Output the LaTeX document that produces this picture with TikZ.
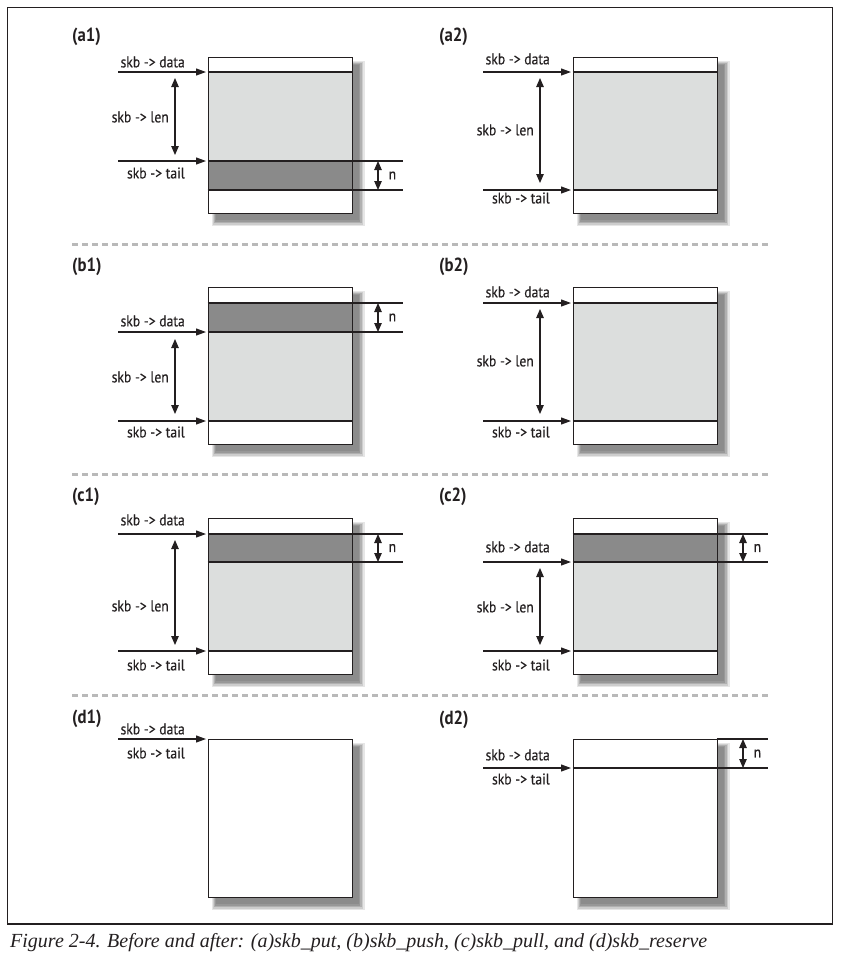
\documentclass[tikz,border=0pt]{standalone}
\usepackage{fontspec}
\setmainfont{Liberation Serif}
\newfontfamily\labelfont[FakeStretch=0.88,FakeBold=0.3]{PT Sans}
\newfontfamily\tagfont[FakeStretch=0.88]{PT Sans}
\usetikzlibrary{arrows.meta}

\definecolor{ink}{RGB}{35,31,32}
\definecolor{datafill}{RGB}{220,222,221}
\definecolor{bandfill}{RGB}{138,138,138}
\definecolor{rulegray}{RGB}{185,185,185}
\definecolor{shadeA}{RGB}{230,230,230}
\definecolor{shadeB}{RGB}{205,205,205}
\definecolor{shadeC}{RGB}{176,176,176}
\definecolor{shadeD}{RGB}{152,152,152}
\definecolor{shadeE}{RGB}{140,140,140}

\tikzset{
  buf/.style={draw=ink, line width=1.3pt, inner sep=0pt, anchor=north west},
  ptr/.style={draw=ink, line width=1.1pt, shorten >=1.5pt, -{Triangle[length=10pt,width=7pt]}},
  span/.style={draw=ink, line width=1.1pt, {Triangle[length=9pt,width=7.5pt]}-{Triangle[length=9pt,width=7.5pt]}},
  ext/.style={draw=ink, line width=1.1pt},
  lbl/.style={font=\labelfont\fontsize{15.5}{18}\selectfont, text=ink, inner sep=0pt},
  tag/.style={font=\tagfont\bfseries\fontsize{19}{22}\selectfont, text=ink, inner sep=0pt, anchor=west},
  sep/.style={draw=rulegray, line width=3pt, dash pattern=on 6pt off 4pt},
}

% pointer arrow into the buffer: name, x from, x to, y, label y, text
\newcommand\SkbPtr[6]{%
  \coordinate (#1s) at (#2,#4);
  \coordinate (#1e) at (#3,#4);
  \draw[ptr] (#1s) -- (#1e);
  \node[lbl, anchor=east] (#1l) at ({#3-22.5},#5) {#6};
}

% length dimension: name, x, y from, y to, label y
\newcommand\SkbLen[5]{%
  \coordinate (#1a) at (#2,#3);
  \coordinate (#1b) at (#2,#4);
  \draw[span] (#1a) -- (#1b);
  \node[lbl, anchor=east] (#1l) at ({#2-6},#5) {skb -> len};
}

% n dimension right of the buffer: name, right x, y top, y bottom
\newcommand\SkbN[4]{%
  \coordinate (#1p) at (#2,#3);
  \coordinate (#1q) at (#2,#4);
  \coordinate (#1r) at ({#2+51.5},#3);
  \coordinate (#1s) at ({#2+51.5},#4);
  \draw[ext] (#1p) -- (#1r);
  \draw[ext] (#1q) -- (#1s);
  \coordinate (#1a) at ({#2+26.5},#3);
  \coordinate (#1b) at ({#2+26.5},#4);
  \draw[span] (#1a) -- (#1b);
  \node[lbl, anchor=west] (#1l) at ({#2+37},{(#3+#4)/2}) {n};
}

% buffer outline: name, left x, top y, bottom y
\newcommand\SkbFrame[4]{%
  \node[buf, minimum width=144pt, minimum height={#4pt-#3pt}] (#1) at (#2,#3) {};
}
% filled region of the buffer: left x, y from, y to, colour
\newcommand\SkbBand[4]{%
  \fill[#4] (#1,#2) rectangle ({#1+144},#3);
}
% horizontal divider across the buffer: left x, y
\newcommand\SkbLine[2]{%
  \draw[ext] (#1,#2) -- ({#1+144},#2);
}
% drop shadow strips right of and below a buffer (left x, top y, bottom y),
% pale rim first, darker core last
\newcommand\SkbShade[3]{%
  \fill[shadeA] ({#1+144},{#2+4}) rectangle ({#1+157},{#3+13});
  \fill[shadeA] ({#1+4},#3) rectangle ({#1+157},{#3+13});
  \fill[shadeB] ({#1+144},{#2+5}) rectangle ({#1+155.5},{#3+11.5});
  \fill[shadeB] ({#1+5},#3) rectangle ({#1+155.5},{#3+11.5});
  \fill[shadeC] ({#1+144},{#2+6}) rectangle ({#1+154},{#3+10});
  \fill[shadeC] ({#1+6},#3) rectangle ({#1+154},{#3+10});
  \fill[shadeD] ({#1+144},{#2+7}) rectangle ({#1+152.5},{#3+8.5});
  \fill[shadeD] ({#1+7},#3) rectangle ({#1+152.5},{#3+8.5});
  \fill[shadeE] ({#1+144},{#2+8}) rectangle ({#1+151},{#3+7});
  \fill[shadeE] ({#1+8},#3) rectangle ({#1+151},{#3+7});
}

\begin{document}
\begin{tikzpicture}[x=1pt,y=-1pt]
\useasboundingbox (0,0) rectangle (844,962);
\draw[ink, line width=1.2pt] (7.5,7.5) rectangle (832.5,924);

% ---------- (a) skb_put ----------
\node[tag] (a1tag) at (72,37) {(a1)};
\SkbShade{207.5}{57}{213}
\SkbBand{207.5}{72}{161}{datafill}
\SkbBand{207.5}{161}{190}{bandfill}
\SkbLine{207.5}{72}
\SkbLine{207.5}{161}
\SkbLine{207.5}{190}
\SkbFrame{a1buf}{207.5}{57}{213}
\SkbPtr{a1d}{118}{207.5}{72}{62}{skb -> data}
\SkbPtr{a1t}{118}{207.5}{161}{173}{skb -> tail}
\SkbLen{a1len}{175}{78}{155}{117}
\SkbN{a1n}{351.5}{161}{190}

\node[tag] (a2tag) at (439,37) {(a2)};
\SkbShade{572.5}{57}{213}
\SkbBand{572.5}{72}{190}{datafill}
\SkbLine{572.5}{72}
\SkbLine{572.5}{190}
\SkbFrame{a2buf}{572.5}{57}{213}
\SkbPtr{a2d}{483}{572.5}{72}{59}{skb -> data}
\SkbPtr{a2t}{483}{572.5}{190}{198}{skb -> tail}
\SkbLen{a2len}{540}{78}{183}{130}

\draw[sep] (72,244) -- (768,244);

% ---------- (b) skb_push ----------
\node[tag] (b1tag) at (72,267) {(b1)};
\SkbShade{207.5}{287}{444}
\SkbBand{207.5}{303}{332}{bandfill}
\SkbBand{207.5}{332}{421}{datafill}
\SkbLine{207.5}{303}
\SkbLine{207.5}{332}
\SkbLine{207.5}{421}
\SkbFrame{b1buf}{207.5}{287}{444}
\SkbPtr{b1d}{118}{207.5}{332}{321}{skb -> data}
\SkbPtr{b1t}{118}{207.5}{421}{432}{skb -> tail}
\SkbLen{b1len}{175}{339}{414}{377}
\SkbN{b1n}{351.5}{303}{332}

\node[tag] (b2tag) at (439,267) {(b2)};
\SkbShade{572.5}{287}{444}
\SkbBand{572.5}{303}{421}{datafill}
\SkbLine{572.5}{303}
\SkbLine{572.5}{421}
\SkbFrame{b2buf}{572.5}{287}{444}
\SkbPtr{b2d}{483}{572.5}{303}{292}{skb -> data}
\SkbPtr{b2t}{483}{572.5}{421}{432}{skb -> tail}
\SkbLen{b2len}{540}{309}{414}{361}

\draw[sep] (72,474) -- (768,474);

% ---------- (c) skb_pull ----------
\node[tag] (c1tag) at (72,497) {(c1)};
\SkbShade{207.5}{518}{674}
\SkbBand{207.5}{534}{562}{bandfill}
\SkbBand{207.5}{562}{651}{datafill}
\SkbLine{207.5}{534}
\SkbLine{207.5}{562}
\SkbLine{207.5}{651}
\SkbFrame{c1buf}{207.5}{518}{674}
\SkbPtr{c1d}{118}{207.5}{534}{520}{skb -> data}
\SkbPtr{c1t}{118}{207.5}{651}{665}{skb -> tail}
\SkbLen{c1len}{175}{540}{645}{606}
\SkbN{c1n}{351.5}{534}{562}

\node[tag] (c2tag) at (439,497) {(c2)};
\SkbShade{572.5}{518}{674}
\SkbBand{572.5}{534}{562}{bandfill}
\SkbBand{572.5}{562}{651}{datafill}
\SkbLine{572.5}{534}
\SkbLine{572.5}{562}
\SkbLine{572.5}{651}
\SkbFrame{c2buf}{572.5}{518}{674}
\SkbPtr{c2d}{483}{572.5}{562}{547}{skb -> data}
\SkbPtr{c2t}{483}{572.5}{651}{665}{skb -> tail}
\SkbLen{c2len}{540}{568}{645}{607}
\SkbN{c2n}{716.5}{534}{562}

\draw[sep] (72,695) -- (768,695);

% ---------- (d) skb_reserve ----------
\node[tag] (d1tag) at (72,719) {(d1)};
\SkbShade{207.5}{739}{897}
\SkbFrame{d1buf}{207.5}{739}{897}
\SkbPtr{d1d}{118}{207.5}{739}{729}{skb -> data}
\node[lbl, anchor=east] (d1tl) at (185,753) {skb -> tail};

\node[tag] (d2tag) at (439,720) {(d2)};
\SkbShade{572.5}{739}{897}
\SkbLine{572.5}{768}
\SkbFrame{d2buf}{572.5}{739}{897}
\SkbPtr{d2d}{483}{572.5}{768}{755}{skb -> data}
\node[lbl, anchor=east] (d2tl) at (550,779) {skb -> tail};
\SkbN{d2n}{716.5}{739}{768}

% ---------- caption ----------
\node[anchor=base west, inner sep=0pt, text=ink,
      font=\itshape\fontsize{20}{24}\selectfont] (caption) at (10,947)
  {Figure 2-4. Before and after: (a)skb\_put, (b)skb\_push, (c)skb\_pull, and (d)skb\_reserve};
\end{tikzpicture}
\end{document}
